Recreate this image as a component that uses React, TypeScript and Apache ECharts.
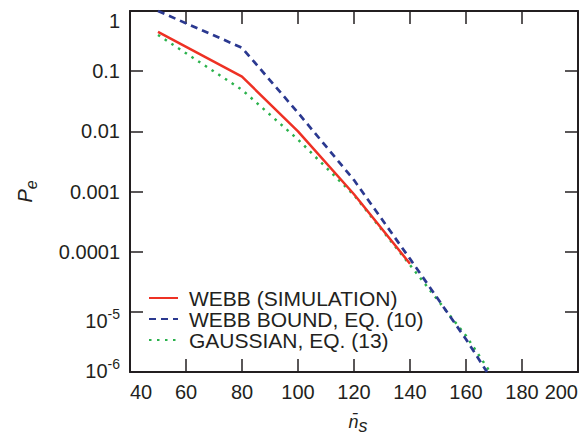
import React, { useEffect, useRef } from "react";
import * as echarts from "echarts";

const xTicks = { min: 40, max: 200, interval: 20 };
const yRange = { min: 1e-6, max: 1 };
// labels by exponent -6 .. 0
const yTickLabels = ["{a|10}{s|-6}", "{a|10}{s|-5}", "0.0001", "0.001", "0.01", "0.1", "1"];

const seriesNames = ["WEBB (SIMULATION)", "WEBB BOUND, EQ. (10)", "GAUSSIAN, EQ. (13)"];

const simX = [50, 80, 100, 120, 140];
const simY = [0.45, 0.081, 0.01, 0.0009, 0.000063];

const boundX = [50, 80, 100, 120, 140, 160, 167.5];
const boundY = [1.0, 0.245, 0.0204, 0.00155, 0.000076, 0.0000035, 0.000001];

const gaussX = [50, 80, 100, 120, 140, 160, 168.6];
const gaussY = [0.4, 0.049, 0.0073, 0.00087, 0.00006, 0.000004, 0.000001];

const FONT = "'Liberation Sans', Arial, Helvetica, sans-serif";
const INK = "#231f20";

function pairs(xs: number[], ys: number[]) {
  return xs.map((x, i) => [x, ys[i]]);
}

export default function App() {
  const ref = useRef<HTMLDivElement>(null);
  useEffect(() => {
    if (!ref.current) return;
    const chart = echarts.init(ref.current, undefined, { renderer: "svg" });
    const tickStyle = { inside: true, length: 13, lineStyle: { color: INK, width: 1.5 } };
    const lineAxis = { show: true, lineStyle: { color: INK, width: 2 } };
    chart.setOption({
      animation: false,
      textStyle: { fontFamily: FONT, color: INK },
      grid: { left: 130, right: 8, top: 11, bottom: 66, containLabel: false },
      legend: {
        orient: "vertical",
        left: 148,
        top: 287.5,
        padding: 0,
        itemWidth: 29,
        itemHeight: 14,
        itemGap: 0,
        itemStyle: { opacity: 0 },
        textStyle: { fontSize: 21, lineHeight: 21, color: INK, fontFamily: FONT, padding: [0, 0, 0, 6] },
        data: seriesNames,
      },
      xAxis: [
        {
          type: "value",
          min: xTicks.min,
          max: xTicks.max,
          interval: xTicks.interval,
          position: "bottom",
          axisLine: lineAxis,
          axisTick: tickStyle,
          splitLine: { show: false },
          axisLabel: {
            fontSize: 20,
            color: INK,
            fontFamily: FONT,
            margin: 10,
            alignMinLabel: "left",
            alignMaxLabel: "right",
          },
          name: "{n|n\u0304}{s|s}",
          nameLocation: "middle",
          nameGap: 41,
          nameTextStyle: {
            rich: {
              n: { fontSize: 18, lineHeight: 18, fontStyle: "italic", verticalAlign: "top", padding: [0, 0, 0, 8], color: INK, fontFamily: FONT },
              s: { fontSize: 18, lineHeight: 18, fontStyle: "italic", verticalAlign: "top", padding: [4, 0, 0, 0], color: INK, fontFamily: FONT },
            },
          },
        },
        {
          type: "value",
          min: xTicks.min,
          max: xTicks.max,
          interval: xTicks.interval,
          position: "top",
          axisLine: lineAxis,
          axisTick: tickStyle,
          axisLabel: { show: false },
          splitLine: { show: false },
        },
      ],
      yAxis: [
        {
          type: "log",
          logBase: 10,
          min: yRange.min,
          max: yRange.max,
          splitNumber: 6,
          position: "left",
          axisLine: lineAxis,
          axisTick: tickStyle,
          minorTick: { show: false },
          splitLine: { show: false },
          axisLabel: {
            fontSize: 20,
            lineHeight: 20,
            color: INK,
            fontFamily: FONT,
            margin: 10,
            verticalAlignMinLabel: "bottom",
            verticalAlignMaxLabel: "top",
            formatter: (v: number) => {
              const e = Math.round(Math.log10(v));
              return yTickLabels[e + 6] ?? String(v);
            },
            rich: {
              a: { fontSize: 20, lineHeight: 20, verticalAlign: "top", padding: [9, 0, 0, 0], color: INK, fontFamily: FONT },
              s: { fontSize: 14, lineHeight: 14, verticalAlign: "top", padding: [4.75, 0, 0, 0], color: INK, fontFamily: FONT },
            },
          },
          name: "{p|P}{e|e}",
          nameLocation: "middle",
          nameRotate: 90,
          nameGap: 95,
          nameTextStyle: {
            rich: {
              p: { fontSize: 20, lineHeight: 20, fontStyle: "italic", verticalAlign: "top", color: INK, fontFamily: FONT },
              e: { fontSize: 16, lineHeight: 16, fontStyle: "italic", verticalAlign: "top", padding: [8.4, 0, 0, 0], color: INK, fontFamily: FONT },
            },
          },
        },
        {
          type: "log",
          logBase: 10,
          min: yRange.min,
          max: yRange.max,
          splitNumber: 6,
          position: "right",
          axisLine: lineAxis,
          axisTick: tickStyle,
          minorTick: { show: false },
          axisLabel: { show: false },
          splitLine: { show: false },
        },
      ],
      series: [
        {
          name: seriesNames[0],
          type: "line",
          symbol: "none",
          showSymbol: false,
          data: pairs(simX, simY),
          lineStyle: { color: "#ee3124", width: 2.5 },
          itemStyle: { color: "#ee3124" },
          z: 4,
        },
        {
          name: seriesNames[1],
          type: "line",
          symbol: "none",
          showSymbol: false,
          data: pairs(boundX, boundY),
          lineStyle: { color: "#2b3990", width: 2.7, type: [7, 5] },
          itemStyle: { color: "#2b3990" },
          z: 3,
        },
        {
          name: seriesNames[2],
          type: "line",
          symbol: "none",
          showSymbol: false,
          data: pairs(gaussX, gaussY),
          lineStyle: { color: "#2bb24c", width: 2.5, type: [2.5, 5.5] },
          itemStyle: { color: "#2bb24c" },
          z: 2,
        },
      ],
    });
    return () => chart.dispose();
  }, []);
  return (
    <div
      ref={ref}
      style={{ position: "fixed", left: 0, top: 0, width: 586, height: 440, background: "#fff" }}
    />
  );
}
